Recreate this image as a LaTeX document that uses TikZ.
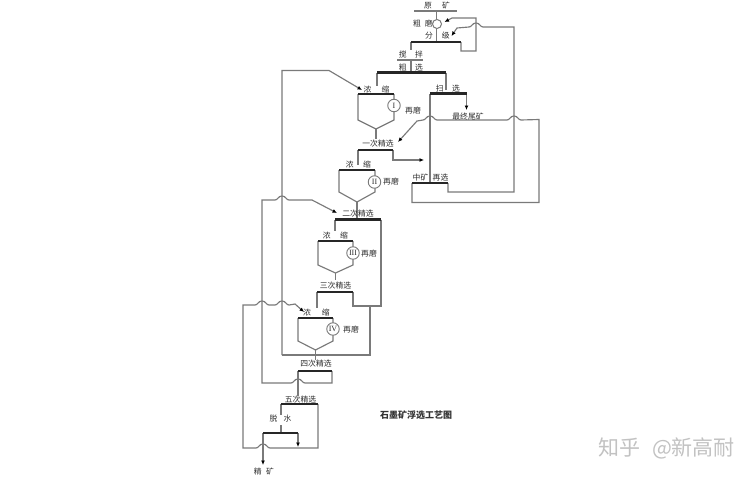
\documentclass[tikz,border=0pt]{standalone}
\usepackage{fontspec}
\usetikzlibrary{arrows.meta}
\newfontfamily\cjk{Noto Sans CJK SC}
\newfontfamily\romanf{Liberation Serif}
\definecolor{pipe}{gray}{0.48}
\definecolor{lab}{gray}{0.18}
% horizontal line hopping over a vertical one at x=#1, height #2, direction #3 (+1 right, -1 left)
\newcommand\hop[3]{-- ({#1-7*(#3)},#2) .. controls ({#1-4*(#3)},#2) and ({#1-4*(#3)},#2-4) .. (#1,#2-4) .. controls ({#1+4*(#3)},#2-4) and ({#1+4*(#3)},#2) .. ({#1+7*(#3)},#2)}
% bar end coordinates, drawn later on top of the pipes
\newcommand\barends[4]{\coordinate (#1-l) at (#2,#4); \coordinate (#1-r) at (#3,#4);}
\newcommand\flowbar[1]{\draw[barline] (#1-l) -- (#1-r);}
% thickener hopper: name, x-left, x-right, y-top, y-shoulder, y-apex
\newcommand\hopper[6]{%
  \barends{#1}{#2}{#3}{#4}
  \coordinate (#1-a) at ({(#2+#3)/2},#6);
  \draw[pipe line] (#1-l) -- (#2,#5) -- (#1-a) -- (#3,#5) -- (#1-r);}
\tikzset{
  pipe line/.style={draw=pipe,line width=1.15pt,line join=miter},
  barline/.style={draw=black!85,line width=2.6pt,line cap=butt},
  flow/.style={pipe line,-{Latex[length=4.5pt,width=4pt,black]}},
  lbl/.style={font=\cjk\fontsize{7.8}{8}\selectfont,text=lab,inner sep=0pt},
  ring/.style={circle,draw=pipe,line width=0.9pt,fill=white,minimum size=12.5pt,inner sep=0pt,font=\romanf\fontsize{8}{8}\selectfont,text=lab},
  wm/.style={font=\cjk\fontsize{21}{22}\selectfont,text=black!24,inner sep=0pt}
}
\begin{document}
\begin{tikzpicture}[x=1pt,y=-1pt]
\useasboundingbox (0,0) rectangle (756,479);
\fill[white] (0,0) rectangle (756,479);
% --- bar ends ---
\barends{feed}{414}{457}{11}
\barends{jiao}{397}{423}{60}
\barends{fen}{411}{461}{42}
\barends{cu}{377}{446}{72.5}
\barends{sao}{430}{466.5}{93.5}
\barends{zx}{412}{448}{183}
\barends{yi}{358}{393}{150}
\barends{er}{335}{381}{219.5}
\barends{san}{317}{353}{292}
\barends{si}{298}{332}{371}
\barends{wu}{281}{318}{404}
\barends{tuo}{263}{298}{433}
% --- free ends and junctions ---
\coordinate (millT) at (436.5,11);
\coordinate (millB) at (436.5,42);
\coordinate (fenD) at (411,50);
\coordinate (jiaoM) at (411,60);
\coordinate (cuM) at (411,72.5);
\coordinate (cuLd) at (377,86);
\coordinate (cuRd) at (446,90);
\coordinate (saoA) at (466.5,110);
\coordinate (saoB) at (430,183);
\coordinate (fbk) at (476,51);
\coordinate (millIn) at (444.5,22);
\coordinate (fenIn) at (451.5,36);
\coordinate (yiIn) at (398,142);
\coordinate (yiTop) at (376,139);
\coordinate (yiLd) at (358,165);
\coordinate (yiOut) at (424,160);
\coordinate (erTop) at (357,219.5);
\coordinate (erLd) at (335,231);
\coordinate (nAin) at (362,90);
\coordinate (sanTop) at (335.5,280);
\coordinate (jn) at (370,306);
\coordinate (sanLd) at (317,308);
\coordinate (siTop) at (315.5,360);
\coordinate (jl) at (282,355);
\coordinate (erIn) at (337,213);
\coordinate (wuTop) at (298,396);
\coordinate (tuoA) at (281,415);
\coordinate (tuoB) at (281,425);
\coordinate (tuoC) at (281,433);
\coordinate (nDin) at (304,312);
\coordinate (tuoOut) at (298,447);
\coordinate (prod) at (263,465);
% --- hoppers ---
\hopper{nA}{358}{394}{94}{120}{129}
\hopper{nB}{339}{375}{170}{192}{202}
\hopper{nC}{318}{353}{241}{265}{273}
\hopper{nD}{298}{333}{318}{341}{350}
% --- pipes ---
\draw[pipe line,line width=1.7pt] (feed-l) -- (feed-r);
\draw[pipe line] (jiao-l) -- (jiao-r);
\draw[pipe line] (fen-l) -- (fenD);
\draw[pipe line] (jiaoM) -- (cuM);
\draw[pipe line] (cu-l) -- (cuLd);
\draw[pipe line] (cu-r) -- (cuRd);
\draw[flow] (sao-r) -- (saoA);
\draw[pipe line] (sao-l) -- (saoB);
\draw[flow] (fen-r) |- (fbk) -- (476,18) -- (452,18) -- (millIn);
\draw[flow] (zx-r) -- (448,192) -- (514,192) -- (514,27) \hop{476}{27}{-1} -- (457,28) -- (fenIn);
\draw[flow] (zx-l) -- (412,202.5) -- (539,202.5) -- (539,119.5) \hop{514}{120}{-1} \hop{430}{120}{-1} -- (417,121) -- (yiIn);
\draw[pipe line] (nA-a) -- (yiTop);
\draw[pipe line] (yi-l) -- (yiLd);
\draw[flow] (yi-r) -- (393,160) -- (yiOut);
\draw[pipe line] (nB-a) -- (erTop);
\draw[pipe line] (er-l) -- (erLd);
\draw[flow] (jl) -- (282,70.5) -- (329,70.5) -- (nAin);
\draw[pipe line] (nC-a) -- (sanTop);
\draw[pipe line] (er-r) -- (381,306) -- (353,306) -- (san-r);
\draw[pipe line] (san-l) -- (sanLd);
\draw[pipe line] (nD-a) -- (siTop);
\draw[pipe line] (jl) -- (370,355) -- (jn);
\draw[flow] (si-r) -- (332,383) \hop{298}{383}{-1} -- (262,383) -- (262,200) \hop{282}{200}{1} -- (312,200) -- (erIn);
\draw[pipe line] (si-l) -- (wuTop);
\draw[pipe line] (wu-l) -- (tuoA);
\draw[pipe line] (tuoB) -- (tuoC);
\draw[flow] (wu-r) -- (318,448) \hop{263}{448}{-1} -- (243,448) -- (243,305) \hop{262}{305}{1} \hop{282}{305}{1} -- (295,304) -- (nDin);
\draw[flow] (tuo-r) -- (tuoOut);
\draw[flow] (tuo-l) -- (prod);
% --- mill ---
\draw[pipe line] (millT) -- (millB);
\node[circle,draw=pipe,line width=1pt,fill=white,minimum size=9pt,inner sep=0pt] (mill) at (437,24) {};
% --- thick bars on top ---
\flowbar{fen}\flowbar{cu}\flowbar{sao}\flowbar{zx}\flowbar{yi}\flowbar{er}\flowbar{san}\flowbar{si}\flowbar{wu}\flowbar{tuo}
\flowbar{nA}\flowbar{nB}\flowbar{nC}\flowbar{nD}
% --- regrind rings ---
\node[ring] (rA) at (394,105.5) {I};
\node[ring] (rB) at (374.5,182) {II};
\node[ring] (rC) at (353,253) {III};
\node[ring] (rD) at (333,329) {IV};
% --- labels ---
\node[lbl] (tyuan) at (437,6) {原\hspace{10pt}矿};
\node[lbl] (tmo) at (423,24) {粗\hspace{4pt}磨};
\node[lbl] (tfen) at (437.5,36) {分\hspace{9pt}级};
\node[lbl] (tjiao) at (411,55) {搅\hspace{8.5pt}拌};
\node[lbl] (tcu) at (411,68) {粗\hspace{8.5pt}选};
\node[lbl] (tn1) at (376.5,90) {浓\hspace{10pt}缩};
\node[lbl] (tsao) at (448,89) {扫\hspace{8.5pt}选};
\node[lbl] (tzm1) at (413,111) {再磨};
\node[lbl] (twei) at (468,117) {最终尾矿};
\node[lbl] (t1) at (378,144) {一次精选};
\node[lbl] (tn2) at (358.5,165) {浓\hspace{9.5pt}缩};
\node[lbl] (tzm2) at (391,181.5) {再磨};
\node[lbl] (tzk) at (420.5,178) {中矿};
\node[lbl] (tzx) at (440.5,178) {再选};
\node[lbl] (t2) at (358,214) {二次精选};
\node[lbl] (tn3) at (335.5,236) {浓\hspace{9.5pt}缩};
\node[lbl] (tzm3) at (369,254) {再磨};
\node[lbl] (t3) at (335.5,286) {三次精选};
\node[lbl] (tn4) at (316.5,313) {浓\hspace{11pt}缩};
\node[lbl] (tzm4) at (351,330) {再磨};
\node[lbl] (t4) at (316,364) {四次精选};
\node[lbl] (t5) at (300.5,400) {五次精选};
\node[lbl] (ttuo) at (280.5,419) {脱\hspace{6pt}水};
\node[lbl] (tjk) at (264,472) {精\hspace{4.5pt}矿};
\node[font=\cjk\bfseries\fontsize{9}{10}\selectfont,text=black!80,inner sep=0pt] (title) at (416,415) {石墨矿浮选工艺图};
\node[wm] (wm1) at (619,448) {知乎};
\node[wm] (wm2) at (693.5,448) {@新高耐};
\end{tikzpicture}
\end{document}
